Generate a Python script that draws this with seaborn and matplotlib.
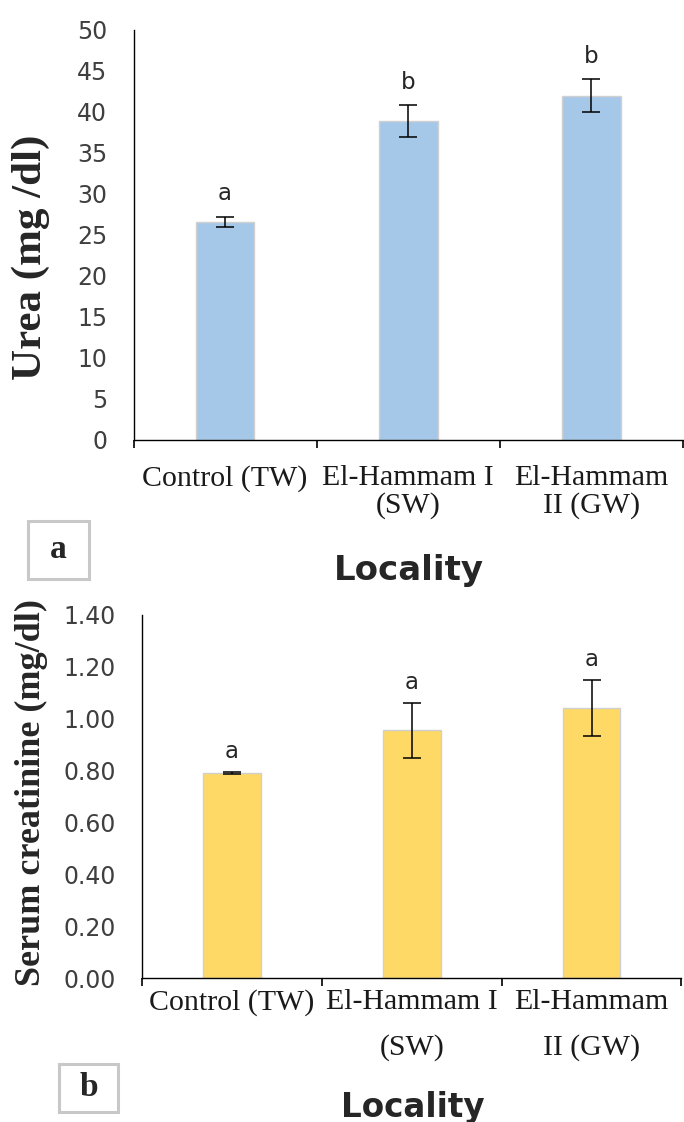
import pandas as pd
import matplotlib.pyplot as plt
import seaborn as sns
from matplotlib.patches import Rectangle

# data
categories = ['Control (TW)', 'El-Hammam I (SW)', 'El-Hammam II (GW)']
tick_labels = ['Control (TW)', 'El-Hammam I\n(SW)', 'El-Hammam\nII (GW)']
urea_mean = [26.6, 38.9, 42.0]
urea_err = [0.6, 1.9, 2.0]
urea_letters = ['a', 'b', 'b']
creat_mean = [0.79, 0.955, 1.04]
creat_err = [0.005, 0.105, 0.108]
creat_letters = ['a', 'a', 'a']

W, H = 684, 1122
sns.set_style('white')
fig = plt.figure(figsize=(W / 100, H / 100), dpi=100)


def px(x0, y0, x1, y1):
    # pixel box -> figure fraction rect
    return [x0 / W, 1 - y1 / H, (x1 - x0) / W, (y1 - y0) / H]


def draw_panel(ax, means, errs, letters, color, ymax, step, fmt, pad_x, lsp, letter_off):
    df = pd.DataFrame({'Locality': categories, 'value': means})
    sns.barplot(data=df, x='Locality', y='value', color=color, width=0.32,
                edgecolor='#D0D0D0', linewidth=1.0, saturation=1, ax=ax)
    ax.errorbar(range(len(means)), means, yerr=errs, fmt='none',
                ecolor='black', elinewidth=1.1, capsize=6.5, capthick=1.1)
    for i, (m, e, t) in enumerate(zip(means, errs, letters)):
        ax.annotate(t, (i, m + e), xytext=(0, letter_off), textcoords='offset points',
                    ha='center', va='baseline', fontsize=16.5, color='#262626',
                    family='DejaVu Sans')
    ax.set_ylim(0, ymax)
    ax.set_xlim(-0.5, len(means) - 0.5)
    yt = [k * step for k in range(int(round(ymax / step)) + 1)]
    ax.set_yticks(yt)
    ax.set_yticklabels([fmt % v for v in yt], fontsize=17, color='#3F3F3F',
                       family='DejaVu Sans')
    ax.tick_params(axis='y', length=0, pad=19)
    ax.set_xticks(range(len(means)))
    ax.set_xticklabels(tick_labels, fontsize=21.5, family='Liberation Serif',
                       color='#1A1A1A', linespacing=lsp)
    ax.set_xticks([-0.5, 0.5, 1.5, 2.5], minor=True)
    ax.tick_params(axis='x', which='major', length=0, pad=pad_x)
    ax.tick_params(axis='x', which='minor', length=6, width=1.2, color='black',
                   direction='out', bottom=True)
    ax.set_xlabel('')
    ax.set_ylabel('')
    sns.despine(ax=ax)
    for s in ['left', 'bottom']:
        ax.spines[s].set_color('black')
        ax.spines[s].set_linewidth(1.0)


ax1 = fig.add_axes(px(133.5, 30, 683, 440))
draw_panel(ax1, urea_mean, urea_err, urea_letters, '#A6C8E8', 50, 5, '%d', 18, 1.05, 12)

ax2 = fig.add_axes(px(142, 615, 681.5, 978))
draw_panel(ax2, creat_mean, creat_err, creat_letters, '#FFD966', 1.4, 0.2, '%.2f', 8, 1.9, 10)

# axis titles
fig.text(31 / W, 1 - 257 / H, 'Urea (mg /dl)', rotation=90, ha='center', va='center',
         fontsize=31, fontweight='bold', family='Liberation Serif')
fig.text(31 / W, 1 - 792 / H, 'Serum creatinine (mg/dl)', rotation=90, ha='center',
         va='center', fontsize=26, fontweight='bold', family='Liberation Serif')
fig.text(409 / W, 1 - 580 / H, 'Locality', ha='center', va='baseline',
         fontsize=24.5, fontweight='bold', family='DejaVu Sans')
fig.text(413 / W, 1 - 1117 / H, 'Locality', ha='center', va='baseline',
         fontsize=23.5, fontweight='bold', family='DejaVu Sans')

# panel tags
for (x0, y0, x1, y1), tag in [((28, 521, 89, 579), 'a'), ((59, 1064, 118, 1112), 'b')]:
    fig.patches.append(Rectangle((x0 / W, 1 - y1 / H), (x1 - x0) / W, (y1 - y0) / H,
                                 transform=fig.transFigure, fill=False,
                                 edgecolor='#C8C8C8', linewidth=2.2))
    fig.text((x0 + x1) / 2 / W, 1 - (y0 + y1) / 2 / H, tag, ha='center', va='center',
             fontsize=24, fontweight='bold', family='Liberation Serif')

fig.savefig('out.png', dpi=100)
